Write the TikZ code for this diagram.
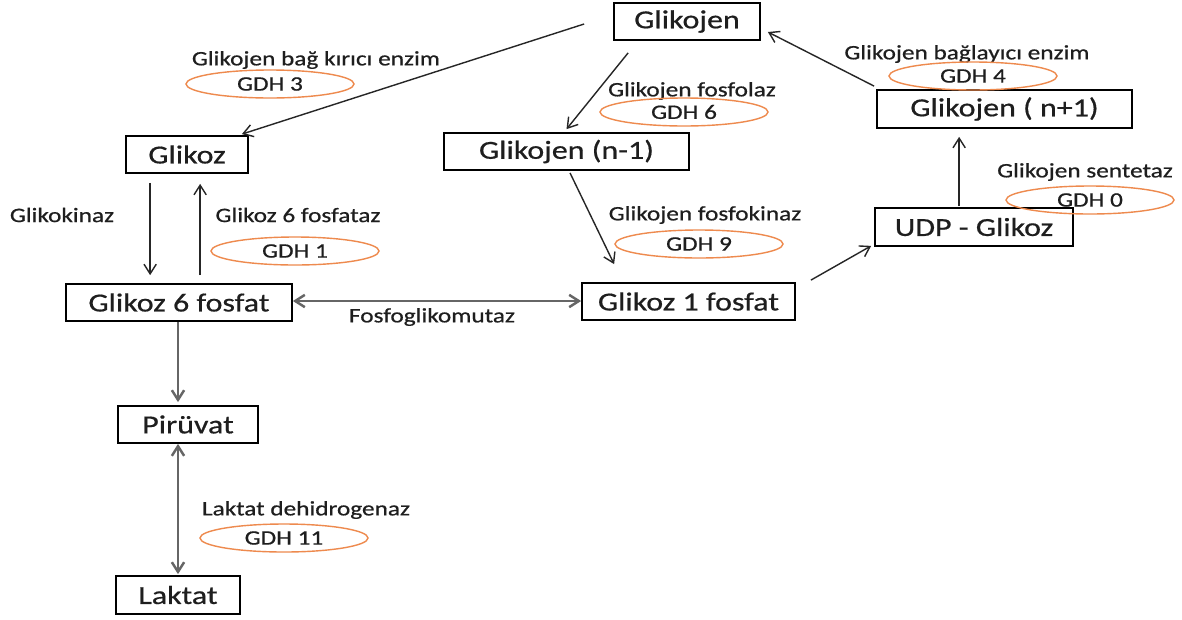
\documentclass[tikz,border=0pt]{standalone}
\usepackage{fontspec}
\setmainfont{Carlito}[FakeStretch=1.23,FakeBold=0.6]
\usetikzlibrary{shapes.geometric,arrows.meta,calc}
\newcommand\pxu{0.02cm}
\definecolor{ell}{HTML}{EE8A4E}
\definecolor{gline}{HTML}{666666}
\definecolor{txt}{HTML}{1E1E1E}
\tikzset{
  box/.style={draw=black,line width=1pt,inner sep=0pt,text=txt,font=\fontsize{14.8}{16}\selectfont},
  lbl/.style={inner sep=0pt,text=txt,font=\fontsize{11.7}{13}\selectfont},
  gdh/.style={ellipse,draw=ell,line width=0.8pt,inner sep=0pt,text=txt,minimum width=168*\pxu,minimum height=28*\pxu,font=\fontsize{11.7}{13}\selectfont},
  arr/.style={line width=0.8pt,draw=black!85,-{Straight Barb[length=5.5pt,width=7pt]}},
  garr/.style={line width=1.4pt,draw=gline,-{Straight Barb[length=5.5pt,width=7pt]}},
  gdarr/.style={line width=1.4pt,draw=gline,{Straight Barb[length=5.5pt,width=7pt]}-{Straight Barb[length=5.5pt,width=7pt]}}
}
\begin{document}
\begin{tikzpicture}[x=0.02cm,y=-0.02cm]
\useasboundingbox[fill=white] (0,0) rectangle (1182,619);
% boxes
\node[box,minimum width=146*\pxu,minimum height=37*\pxu] (glikojen) at (687,21.5) {Glikojen};
\node[box,minimum width=122*\pxu,minimum height=37*\pxu] (glikoz) at (187,154.5) {Glikoz};
\node[box,minimum width=245*\pxu,minimum height=37*\pxu] (gn1) at (566.5,151.5) {Glikojen (n-1)};
\node[box,minimum width=255*\pxu,minimum height=38*\pxu] (gnp1) at (1004.5,109) {Glikojen ( n+1)};
\node[box,minimum width=198*\pxu,minimum height=38*\pxu] (udp) at (974,227) {UDP - Glikoz};
\node[box,minimum width=226*\pxu,minimum height=37*\pxu] (g6p) at (179,302.5) {Glikoz 6 fosfat};
\node[box,minimum width=213*\pxu,minimum height=37*\pxu] (g1p) at (688.5,301.5) {Glikoz 1 fosfat};
\node[box,minimum width=140*\pxu,minimum height=37*\pxu] (piruvat) at (188,424.5) {Pirüvat};
\node[box,minimum width=124*\pxu,minimum height=38*\pxu] (laktat) at (178,595) {Laktat};
% labels
\node[lbl] (l1) at (316,60) {Glikojen bağ kırıcı enzim};
\node[gdh] (e3) at (270,84) {GDH 3};
\node[lbl] (l2) at (62,215) {Glikokinaz};
\node[lbl] (l3) at (298,215) {Glikoz 6 fosfataz};
\node[gdh] (e1) at (295,251) {GDH 1};
\node[lbl] (l4) at (692,91) {Glikojen fosfolaz};
\node[gdh] (e6) at (684,112) {GDH 6};
\node[lbl] (l5) at (705,215) {Glikojen fosfokinaz};
\node[gdh] (e9) at (699,244) {GDH 9};
\node[lbl] (l6) at (967,54) {Glikojen bağlayıcı enzim};
\node[gdh] (e4) at (973,76) {GDH 4};
\node[lbl] (l7) at (1085,172) {Glikojen sentetaz};
\node[gdh] (e0) at (1090,200) {GDH 0};
\node[lbl] (l8) at (432,317) {Fosfoglikomutaz};
\node[lbl] (l9) at (306,510) {Laktat dehidrogenaz};
\node[gdh] (e11) at (284,538) {GDH 11};
% connectors
\draw[arr] ($(glikojen.west)+(-29,2.5)$) -- ($(glikoz.north east)+(-7,-1)$);
\draw[arr] ($(glikojen.south west)+(15,12)$) -- ($(gn1.north)+(0,-3)$);
\draw[arr] ($(gn1.south)+(3.5,2)$) -- ($(g1p.north west)+(33,-18)$);
\draw[arr] ($(g1p.north east)+(15,-2)$) -- ($(udp.south west)+(-3,-1)$);
\draw[arr] ($(udp.north west)+(85,-1)$) -- ($(gnp1.south west)+(83,8)$);
\draw[arr] ($(gnp1.north west)+(-2,-3)$) -- ($(glikojen.east)+(7,10.5)$);
\draw[arr] ($(glikoz.south west)+(25,9)$) -- ($(g6p.north west)+(85,-8)$);
\draw[arr] ($(g6p.north west)+(135,-8)$) -- ($(glikoz.south west)+(75,10)$);
\draw[gdarr] (g6p.east |- 0,301) -- (g1p.west |- 0,301);
\draw[garr] (g6p.south -| 178,0) -- ($(piruvat.north -| 178,0)+(0,-3)$);
\draw[gdarr] (piruvat.south -| 178,0) -- ($(laktat.north -| 178,0)+(0,-1)$);
\end{tikzpicture}
\end{document}
